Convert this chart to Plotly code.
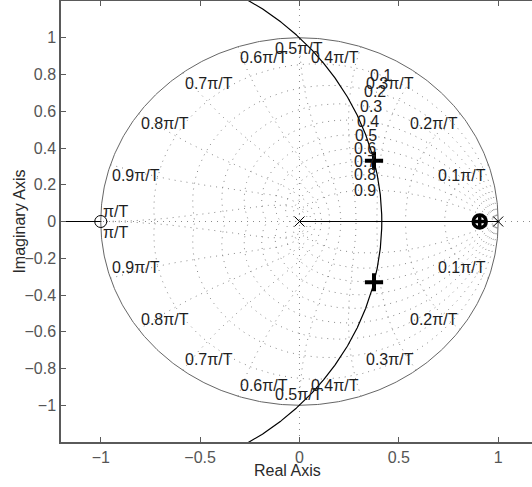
import numpy as np
import plotly.graph_objects as go

# Open-loop system G(z) = K (z + 1) / (z (z - 1))
ol_poles = [0.0, 1.0]
ol_zeros = [-1.0]
# Gain picked for the closed-loop poles shown on the locus
cl_gain = 0.25
# Near-cancelling pole/zero pair on the real axis
pz_pair = [0.907]

# z-plane grid: damping ratios and natural frequencies (multiples of pi/T)
zeta_values = [0.1, 0.2, 0.3, 0.4, 0.5, 0.6, 0.7, 0.8, 0.9]
wn_values = [0.1, 0.2, 0.3, 0.4, 0.5, 0.6, 0.7, 0.8, 0.9, 1.0]
zeta_label_wn = 0.35

x_ticks = [-1, -0.5, 0, 0.5, 1]
y_ticks = [-1, -0.8, -0.6, -0.4, -0.2, 0, 0.2, 0.4, 0.6, 0.8, 1]
x_range = [-1.2, 1.17]
y_range = [-1.2, 1.2]

FONT = "Liberation Sans, Arial, sans-serif"
GRID = "#8a8a8a"
AXIS = "#5a5a5a"
INK = "#1e1e1e"

fig = go.Figure()


def add_line(x, y, color, width=1, dash=None):
    fig.add_trace(go.Scatter(x=x, y=y, mode="lines", hoverinfo="skip",
                             line=dict(color=color, width=width, dash=dash),
                             showlegend=False))


dot = "1px,5px"

# damping-ratio curves
theta = np.linspace(0, np.pi, 400)
for zeta in zeta_values:
    m = zeta / np.sqrt(1 - zeta ** 2)
    zz = np.exp(theta * (-m + 1j))
    add_line(zz.real, zz.imag, GRID, dash=dot)
    add_line(zz.real, -zz.imag, GRID, dash=dot)

# natural-frequency curves
zg = np.linspace(0, 1, 200)
for wn in wn_values:
    zz = np.exp(wn * np.pi * (-zg + 1j * np.sqrt(1 - zg ** 2)))
    add_line(zz.real, zz.imag, GRID, dash=dot)
    add_line(zz.real, -zz.imag, GRID, dash=dot)

# real and imaginary axis guides
add_line([x_range[0], x_range[1]], [0, 0], GRID, dash=dot)
add_line([0, 0], [y_range[0], y_range[1]], GRID, dash=dot)

# unit circle
phi = np.linspace(0, 2 * np.pi, 600)
add_line(np.cos(phi), np.sin(phi), "#666666", width=1)

# root locus branches
num = np.poly(ol_zeros)
den = np.poly(ol_poles)
k_lo = 3 - 2 * np.sqrt(2)
k_hi = 3 + 2 * np.sqrt(2)
gains = np.concatenate([np.linspace(0, k_lo, 80),
                        np.geomspace(k_lo, k_hi, 600),
                        np.geomspace(k_hi, 1e4, 300)])
branch_a, branch_b = [], []
for k in gains:
    char = den.astype(complex).copy()
    char[-len(num):] += k * num
    r = np.roots(char)
    if np.max(np.abs(r.imag)) > 1e-9:
        a = r[np.argmax(r.imag)]
        b = r[np.argmin(r.imag)]
    else:
        a, b = max(r.real), min(r.real)
    branch_a.append(complex(a))
    branch_b.append(complex(b))
for br in (branch_a, branch_b):
    br = np.array(br)
    add_line(br.real, br.imag, "#000000", width=1.2)

# closed-loop poles at the selected gain
char = den.astype(complex).copy()
char[-len(num):] += cl_gain * num
cl = np.roots(char)
fig.add_trace(go.Scatter(x=cl.real, y=cl.imag, mode="markers", hoverinfo="skip",
                         marker=dict(symbol="cross-thin-open", size=13, color="#000",
                                     line=dict(color="#000", width=4)),
                         showlegend=False))

# near-cancelling pair
fig.add_trace(go.Scatter(x=pz_pair, y=[0] * len(pz_pair), mode="markers",
                         hoverinfo="skip",
                         marker=dict(symbol="circle-cross-open", size=13, color="#000",
                                     line=dict(color="#000", width=3.5)),
                         showlegend=False))

# open-loop poles and zeros
fig.add_trace(go.Scatter(x=ol_poles, y=[0] * len(ol_poles), mode="markers",
                         hoverinfo="skip",
                         marker=dict(symbol="x-thin-open", size=10, color="#000",
                                     line=dict(color="#000", width=1)),
                         showlegend=False))
fig.add_trace(go.Scatter(x=ol_zeros, y=[0] * len(ol_zeros), mode="markers",
                         hoverinfo="skip",
                         marker=dict(symbol="circle-open", size=12, color="#000",
                                     line=dict(color="#000", width=1)),
                         showlegend=False))

annotations = []
label_font = dict(family=FONT, size=16, color=INK)

# damping-ratio labels
for zeta in zeta_values:
    p = np.exp(zeta_label_wn * np.pi * (-zeta + 1j * np.sqrt(1 - zeta ** 2)))
    annotations.append(dict(x=p.real, y=p.imag, text=f"{zeta:g}", showarrow=False,
                            xanchor="center", yanchor="middle", font=label_font))

# natural-frequency labels at the unit circle, both halves
for wn in wn_values:
    ang = wn * np.pi
    cx, cy = np.cos(ang), np.sin(ang)
    text = "\u03c0/T" if wn == 1.0 else f"{wn:g}\u03c0/T"
    if abs(cx) < 1e-9:
        xa = "center"
    elif cx > 0:
        xa = "right"
    else:
        xa = "left"
    if wn == 1.0:
        annotations.append(dict(x=cx, y=0, text=text, showarrow=False,
                                xanchor="left", yanchor="bottom", font=label_font))
        annotations.append(dict(x=cx, y=0, text=text, showarrow=False,
                                xanchor="left", yanchor="top", font=label_font))
    else:
        annotations.append(dict(x=cx, y=cy, text=text, showarrow=False,
                                xanchor=xa, yanchor="top", font=label_font))
        annotations.append(dict(x=cx, y=-cy, text=text, showarrow=False,
                                xanchor=xa, yanchor="bottom", font=label_font))

# axis titles
annotations.append(dict(xref="paper", yref="paper", x=0.48, y=-0.064,
                        text="Real Axis", showarrow=False, xanchor="center",
                        yanchor="middle",
                        font=dict(family=FONT, size=16, color="#2a2a2a")))
annotations.append(dict(xref="paper", yref="paper", x=-0.089, y=0.5,
                        text="Imaginary Axis", showarrow=False, textangle=-90,
                        xanchor="center", yanchor="middle",
                        font=dict(family=FONT, size=16, color="#2a2a2a")))

tick_font = dict(family=FONT, size=16, color="#555555")
fig.update_layout(
    width=532, height=487,
    margin=dict(l=61, r=0, t=1, b=45),
    paper_bgcolor="white", plot_bgcolor="white",
    annotations=annotations,
    xaxis=dict(range=x_range, tickvals=x_ticks, ticktext=[f"{v:g}".replace("-", "\u2212") for v in x_ticks],
               ticks="inside", ticklen=5, tickcolor=AXIS, showline=True,
               linecolor=AXIS, linewidth=1.5, mirror="ticks", showgrid=False,
               zeroline=False, tickfont=tick_font),
    yaxis=dict(range=y_range, tickvals=y_ticks, ticktext=[f"{v:g}".replace("-", "\u2212") for v in y_ticks],
               ticks="inside", ticklen=5, tickcolor=AXIS, showline=True,
               linecolor=AXIS, linewidth=1.5, mirror=False, showgrid=False,
               zeroline=False, tickfont=tick_font),
)

fig.write_html("out.html")
